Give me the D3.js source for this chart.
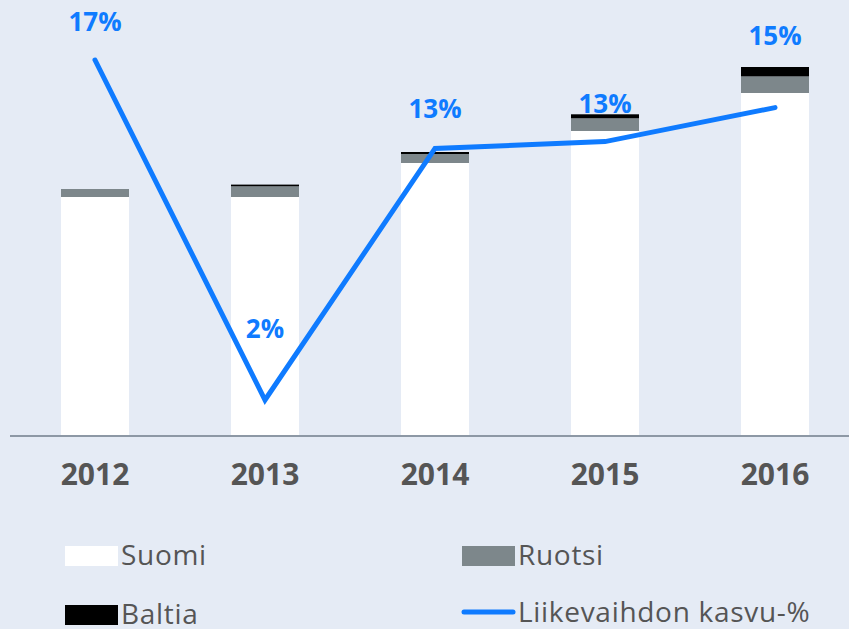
<!DOCTYPE html>
<html>
<head>
<meta charset="utf-8">
<script src="https://cdn.jsdelivr.net/npm/d3@7"></script>
<style>
  html, body { margin: 0; padding: 0; background: #e5ebf5; }
  svg { display: block; font-family: "Open Sans", sans-serif; }
</style>
</head>
<body>
<div id="chart"></div>
<script>
// Data (bars in arbitrary revenue units, growth in %)
const years = ["2012", "2013", "2014", "2015", "2016"];
const suomi = [238, 238, 272, 304, 342];
const ruotsi = [8, 10.7, 9, 12.7, 16.6];
const baltia = [0, 1.7, 2, 4, 9.4];
const growth = [17, 2, 13.1, 13.4, 14.9];
const growthLabels = ["17%", "2%", "13%", "13%", "15%"];
const seriesNames = ["Suomi", "Ruotsi", "Baltia"];
const seriesColors = ["#ffffff", "#7d878b", "#000000"];
const lineName = "Liikevaihdon kasvu-%";
const lineColor = "#0f7bff";

const width = 849, height = 629;
const margin = { top: 35, right: 0, bottom: 194, left: 10 };

const rows = years.map((y, i) => ({ year: y, Suomi: suomi[i], Ruotsi: ruotsi[i], Baltia: baltia[i] }));

const svg = d3.select("#chart").append("svg")
    .attr("width", width)
    .attr("height", height);

const x = d3.scaleBand()
    .domain(years)
    .range([10, 860])
    .paddingInner(0.6)
    .paddingOuter(0.3);

const y = d3.scaleLinear()
    .domain([0, 400])
    .range([height - margin.bottom, margin.top]);

// growth axis (hidden), fitted so 2% and 17% fall where the picture has them
const y2 = d3.scaleLinear()
    .domain([2, 17])
    .range([400, 60]);

const stack = d3.stack().keys(seriesNames);
const stacked = stack(rows);

svg.append("g")
    .selectAll("g")
    .data(stacked)
    .join("g")
    .attr("fill", (d, i) => seriesColors[i])
    .selectAll("rect")
    .data(d => d)
    .join("rect")
    .attr("x", d => x(d.data.year))
    .attr("width", x.bandwidth())
    .attr("y", d => y(d[1]))
    .attr("height", d => y(d[0]) - y(d[1]));

// baseline
svg.append("line")
    .attr("x1", 10)
    .attr("x2", width)
    .attr("y1", y(0) + 1)
    .attr("y2", y(0) + 1)
    .attr("stroke", "#8d98a5")
    .attr("stroke-width", 2);

// year labels
svg.append("g")
    .selectAll("text")
    .data(years)
    .join("text")
    .attr("x", d => x(d) + x.bandwidth() / 2)
    .attr("y", 485)
    .attr("text-anchor", "middle")
    .attr("fill", "#555555")
    .attr("font-size", 30)
    .attr("font-weight", 700)
    .text(d => d);

// growth line
const line = d3.line()
    .x((d, i) => x(years[i]) + x.bandwidth() / 2)
    .y(d => y2(d));

svg.append("path")
    .datum(growth)
    .attr("d", line)
    .attr("fill", "none")
    .attr("stroke", lineColor)
    .attr("stroke-width", 5)
    .attr("stroke-linecap", "round");

const labelOffsets = [-29, -62, -30, -29, -63];
svg.append("g")
    .selectAll("text")
    .data(growth)
    .join("text")
    .attr("x", (d, i) => x(years[i]) + x.bandwidth() / 2)
    .attr("y", (d, i) => y2(d) + labelOffsets[i])
    .attr("text-anchor", "middle")
    .attr("fill", lineColor)
    .attr("font-size", 26)
    .attr("font-weight", 700)
    .text((d, i) => growthLabels[i]);

// legend
const legendItems = [
    { name: "Suomi", type: "rect", color: seriesColors[0], x: 65, y: 556 },
    { name: "Ruotsi", type: "rect", color: seriesColors[1], x: 462, y: 556 },
    { name: "Baltia", type: "rect", color: seriesColors[2], x: 65, y: 615 },
    { name: lineName, type: "line", color: lineColor, x: 462, y: 612 }
];

const legend = svg.append("g");
const item = legend.selectAll("g")
    .data(legendItems)
    .join("g")
    .attr("transform", d => `translate(${d.x},${d.y})`);

item.filter(d => d.type === "rect")
    .append("rect")
    .attr("x", 0)
    .attr("y", -10)
    .attr("width", 53)
    .attr("height", 20)
    .attr("fill", d => d.color);

item.filter(d => d.type === "line")
    .append("line")
    .attr("x1", 2)
    .attr("x2", 51)
    .attr("y1", 0)
    .attr("y2", 0)
    .attr("stroke", d => d.color)
    .attr("stroke-width", 5)
    .attr("stroke-linecap", "round");

item.append("text")
    .attr("x", 56)
    .attr("y", d => d.type === "line" ? 10 : 9)
    .attr("fill", "#555555")
    .attr("font-size", 28)
    .attr("letter-spacing", 0.7)
    .text(d => d.name);
</script>
</body>
</html>
